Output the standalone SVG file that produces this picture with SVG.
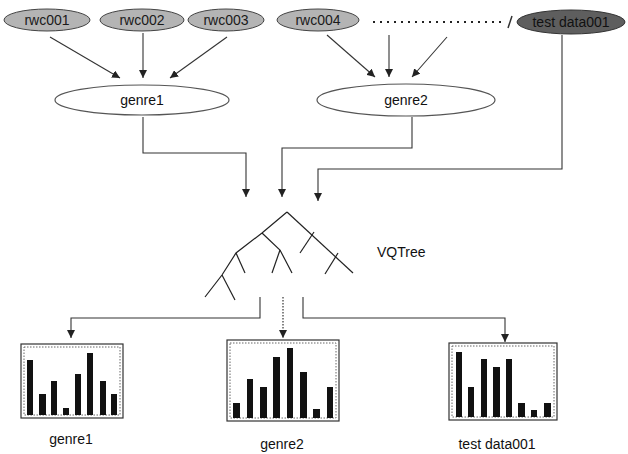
<svg xmlns="http://www.w3.org/2000/svg" width="628" height="454" viewBox="0 0 628 454">
<style>
  .src { fill: #b4b4b4; stroke: #444; stroke-width: 1; }
  .test { fill: #5e5e5e; stroke: #333; stroke-width: 1; }
  .genre { fill: #fff; stroke: #555; stroke-width: 1.2; }
  .lbl { font-family: "Liberation Sans", Arial, sans-serif; font-size: 14px; fill: #111; text-anchor: middle; }
  .small { font-family: "Liberation Sans", Arial, sans-serif; font-size: 14px; fill: #1a1a1a; text-anchor: middle; }
  .conn { fill: none; stroke: #333; stroke-width: 1.1; }
  .dot { fill: none; stroke: #333; stroke-width: 1.2; stroke-dasharray: 1.5 1.5; }
  .bigdot { fill: none; stroke: #222; stroke-width: 2; stroke-dasharray: 2 5; }
  .tree { fill: none; stroke: #222; stroke-width: 1.2; }
  .box { fill: #fff; stroke: #333; stroke-width: 1.2; }
  .inner { fill: none; stroke: #666; stroke-width: 1; stroke-dasharray: 1.5 1.5; }
  .bar { fill: #111; }
</style>
<defs>
  <marker id="ah" viewBox="0 0 10 10" refX="10" refY="5" markerWidth="8" markerHeight="8" orient="auto" markerUnits="userSpaceOnUse">
    <path d="M0,0 L10,5 L0,10 z" fill="#222"/>
  </marker>
</defs>
<rect width="628" height="454" fill="#fff"/>

<g id="connectors">
  <line class="conn" x1="50" y1="37" x2="120" y2="78" marker-end="url(#ah)"/>
  <line class="conn" x1="143" y1="33" x2="143" y2="78" marker-end="url(#ah)"/>
  <line class="conn" x1="227" y1="37" x2="170" y2="78" marker-end="url(#ah)"/>
  <line class="conn" x1="327" y1="35" x2="375" y2="77" marker-end="url(#ah)"/>
  <line class="conn" x1="389" y1="35" x2="389" y2="77" marker-end="url(#ah)"/>
  <line class="conn" x1="447" y1="37" x2="412" y2="77" marker-end="url(#ah)"/>
  <line class="bigdot" x1="373" y1="22" x2="506" y2="22"/>
  <line class="conn" x1="508" y1="28" x2="512" y2="16" style="stroke-width:1.5"/>
  <polyline class="conn" points="143,117 143,153 246,153 246,197" marker-end="url(#ah)"/>
  <polyline class="conn" points="412,117 412,148 282,148 282,197" marker-end="url(#ah)"/>
  <polyline class="conn" points="562,35 562,169 318,169 318,201" marker-end="url(#ah)"/>
  <polyline class="conn" points="260,297 260,318 71,318 71,338" marker-end="url(#ah)"/>
  <line class="dot" x1="283" y1="297" x2="283" y2="338" marker-end="url(#ah)"/>
  <polyline class="conn" points="303,297 303,318 505,318 505,342" marker-end="url(#ah)"/>
</g>

<g id="rwc001"><ellipse class="src" cx="47" cy="20" rx="43" ry="11"/><text class="small" x="47" y="25">rwc001</text></g>
<g id="rwc002"><ellipse class="src" cx="142" cy="20" rx="42" ry="11"/><text class="small" x="142" y="25">rwc002</text></g>
<g id="rwc003"><ellipse class="src" cx="226" cy="20" rx="38" ry="11"/><text class="small" x="226" y="25">rwc003</text></g>
<g id="rwc004"><ellipse class="src" cx="318" cy="20" rx="41" ry="11"/><text class="small" x="318" y="25">rwc004</text></g>
<g id="testdata001"><ellipse class="test" cx="571" cy="22" rx="54" ry="12"/><text class="small" x="571" y="27" style="fill:#111">test data001</text></g>

<g id="genre1"><ellipse class="genre" cx="142" cy="100" rx="87" ry="15"/><text class="lbl" x="142" y="105">genre1</text></g>
<g id="genre2"><ellipse class="genre" cx="406" cy="100" rx="89" ry="16"/><text class="lbl" x="406" y="105">genre2</text></g>

<g id="vqtree">
  <polyline class="tree" points="287,212 262,233 236,253 222,275 205,297"/>
  <line class="tree" x1="287" y1="212" x2="353" y2="273"/>
  <line class="tree" x1="314" y1="232" x2="300" y2="253"/>
  <line class="tree" x1="338" y1="253" x2="325" y2="274"/>
  <polyline class="tree" points="262,233 280,250 292,273"/>
  <line class="tree" x1="280" y1="250" x2="272" y2="273"/>
  <line class="tree" x1="236" y1="253" x2="245" y2="273"/>
  <line class="tree" x1="222" y1="275" x2="235" y2="300"/>
  <text x="377" y="257" style="font-family:'Liberation Sans',Arial,sans-serif;font-size:14px;fill:#111">VQTree</text>
</g>

<g id="chart-genre1">
  <rect class="box" x="21" y="344" width="102" height="74"/>
  <rect class="inner" x="24" y="347" width="96" height="68"/>
  <rect class="bar" x="27" y="360" width="6" height="55"/>
  <rect class="bar" x="39" y="394" width="7" height="21"/>
  <rect class="bar" x="51" y="381" width="6" height="34"/>
  <rect class="bar" x="63" y="408" width="6" height="7"/>
  <rect class="bar" x="75" y="374" width="6" height="41"/>
  <rect class="bar" x="87" y="353" width="6" height="62"/>
  <rect class="bar" x="100" y="381" width="6" height="34"/>
  <rect class="bar" x="111" y="394" width="6" height="21"/>
  <text class="lbl" x="71" y="444">genre1</text>
</g>

<g id="chart-genre2">
  <rect class="box" x="227" y="340" width="112" height="81"/>
  <rect class="inner" x="230" y="343" width="106" height="75"/>
  <rect class="bar" x="233" y="403" width="7" height="15"/>
  <rect class="bar" x="247" y="379" width="6" height="39"/>
  <rect class="bar" x="260" y="387" width="7" height="31"/>
  <rect class="bar" x="273" y="357" width="7" height="61"/>
  <rect class="bar" x="287" y="348" width="6" height="70"/>
  <rect class="bar" x="300" y="372" width="7" height="46"/>
  <rect class="bar" x="313" y="409" width="7" height="9"/>
  <rect class="bar" x="327" y="387" width="6" height="31"/>
  <text class="lbl" x="282" y="449">genre2</text>
</g>

<g id="chart-testdata001">
  <rect class="box" x="449" y="343" width="108" height="77"/>
  <rect class="inner" x="452" y="346" width="102" height="71"/>
  <rect class="bar" x="456" y="352" width="6" height="65"/>
  <rect class="bar" x="468" y="387" width="6" height="30"/>
  <rect class="bar" x="481" y="359" width="6" height="58"/>
  <rect class="bar" x="493" y="367" width="7" height="50"/>
  <rect class="bar" x="506" y="359" width="6" height="58"/>
  <rect class="bar" x="518" y="403" width="7" height="14"/>
  <rect class="bar" x="531" y="410" width="6" height="7"/>
  <rect class="bar" x="544" y="403" width="7" height="14"/>
  <text class="lbl" x="497" y="449">test data001</text>
</g>
</svg>
